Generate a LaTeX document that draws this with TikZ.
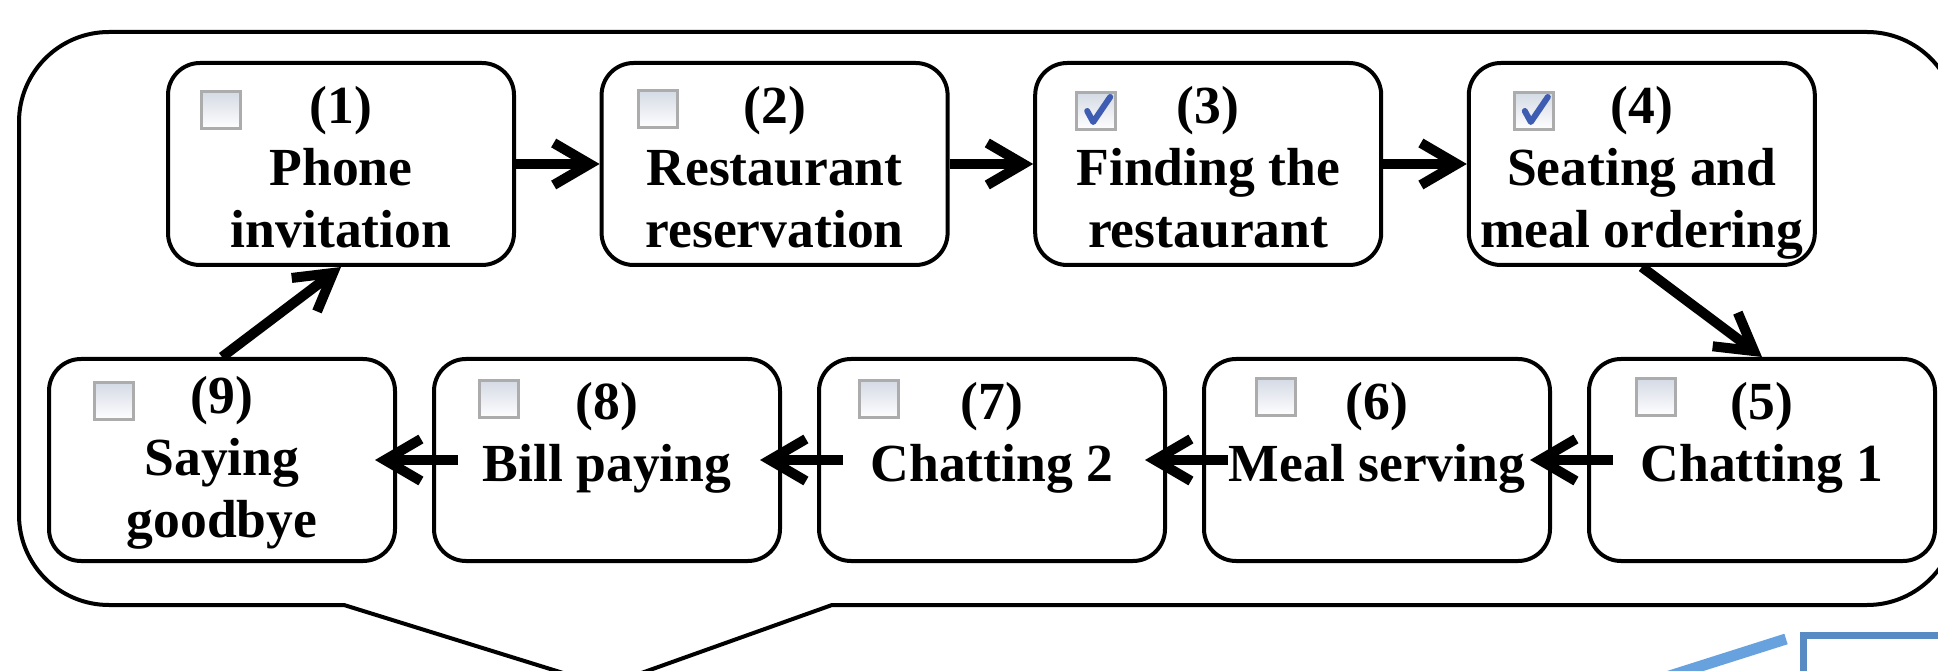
\documentclass[tikz,border=0pt]{standalone}
\usepackage{fontspec}
\setmainfont{Liberation Serif}
\usetikzlibrary{arrows.meta,positioning}
\definecolor{chkframe}{RGB}{172,172,172}
\definecolor{chkfill}{RGB}{212,218,228}
\definecolor{chkmark}{RGB}{62,92,178}
\definecolor{calloutblue}{RGB}{104,162,222}
\definecolor{frameblue}{RGB}{88,138,196}

\begin{document}
\begin{tikzpicture}[
  x=0.5pt,y=0.5pt,
  font=\fontsize{26.8}{31}\selectfont\bfseries,
  stp/.style={draw,line width=2pt,rounded corners=16pt,align=center,
              inner sep=0pt,minimum width=173pt,minimum height=101pt},
  chk/.style={draw=chkframe,line width=1.5pt,inner sep=0pt,
              minimum width=19.5pt,minimum height=18.5pt,
              top color=chkfill,bottom color=white},
  tk/.style={chkmark,line width=3pt,line cap=round,line join=round},
  arr/.style={-{Straight Barb[length=18pt,width=21pt]},line width=5pt},
  arrin/.style={arr,shorten <=-13pt,shorten >=-11pt}
]
\useasboundingbox (0,0) rectangle (1938,670);
% speech bubble round the scenario
\draw[line width=2pt] (344,65) -- (109,65) arc[start angle=270,end angle=180,radius=45pt]
  -- (19,548) arc[start angle=180,end angle=90,radius=45pt]
  -- (1867,638) arc[start angle=90,end angle=0,radius=45pt]
  -- (1957,155) arc[start angle=0,end angle=-90,radius=45pt]
  -- (832,65) -- (605,-16) -- cycle;
% top row
\node[stp] (st1) at (341,506) {\strut(1)\\Phone\\invitation};
\node[stp,right=41.8pt of st1] (st2) {\strut(2)\\Restaurant\\reservation};
\node[stp,right=41.8pt of st2] (st3) {\strut(3)\\Finding the\\restaurant};
\node[stp,right=41.8pt of st3] (st4) {\strut(4)\\Seating and\\\smash{meal ordering}};
% bottom row, right to left
\node[stp] (st5) at (1762,210) {\strut(5)\\Chatting 1\\\mbox{}};
\node[stp,left=17.5pt of st5] (st6) {\strut(6)\\Meal serving\\\mbox{}};
\node[stp,left=17.5pt of st6] (st7) {\strut(7)\\Chatting 2\\\mbox{}};
\node[stp,left=17.5pt of st7] (st8) {\strut(8)\\Bill paying\\\mbox{}};
\node[stp,left=17.5pt of st8] (st9) {\strut(9)\\Saying\\goodbye};
% check boxes
\node[chk,below right=14.5pt and 17pt of st1.north west] (cb1) {};
\node[chk,below right=14pt and 18.5pt of st2.north west] (cb2) {};
\node[chk,below right=15pt and 21pt of st3.north west] (cb3) {};
\node[chk,below right=15pt and 23pt of st4.north west] (cb4) {};
\node[chk,below right=10pt and 24pt of st5.north west] (cb5) {};
\node[chk,below right=10pt and 26.5pt of st6.north west] (cb6) {};
\node[chk,below right=11pt and 20.5pt of st7.north west] (cb7) {};
\node[chk,below right=11pt and 23pt of st8.north west] (cb8) {};
\node[chk,below right=12pt and 23pt of st9.north west] (cb9) {};
\draw[tk] ([shift={(6pt,-10pt)}]cb3.north west) -- ++(3pt,-5.5pt) -- ++(8.5pt,12.5pt);
\draw[tk] ([shift={(6pt,-10pt)}]cb4.north west) -- ++(3pt,-5.5pt) -- ++(8.5pt,12.5pt);
% flow
\draw[arr] (st1)--(st2); \draw[arr] (st2)--(st3); \draw[arr] (st3)--(st4);
\draw[arr] (st4.south)--(st5.north);
\draw[arrin] (st5)--(st6); \draw[arrin] (st6)--(st7);
\draw[arrin] (st7)--(st8); \draw[arrin] (st8)--(st9);
\draw[arr] (st9.north)--(st1.south);
% edge of the next panel
\draw[calloutblue,line width=5.5pt] (1660,-9) -- (1786,31);
\draw[frameblue,line width=3.5pt] (1803.5,34.5) rectangle (2000,-60);
\end{tikzpicture}
\end{document}
